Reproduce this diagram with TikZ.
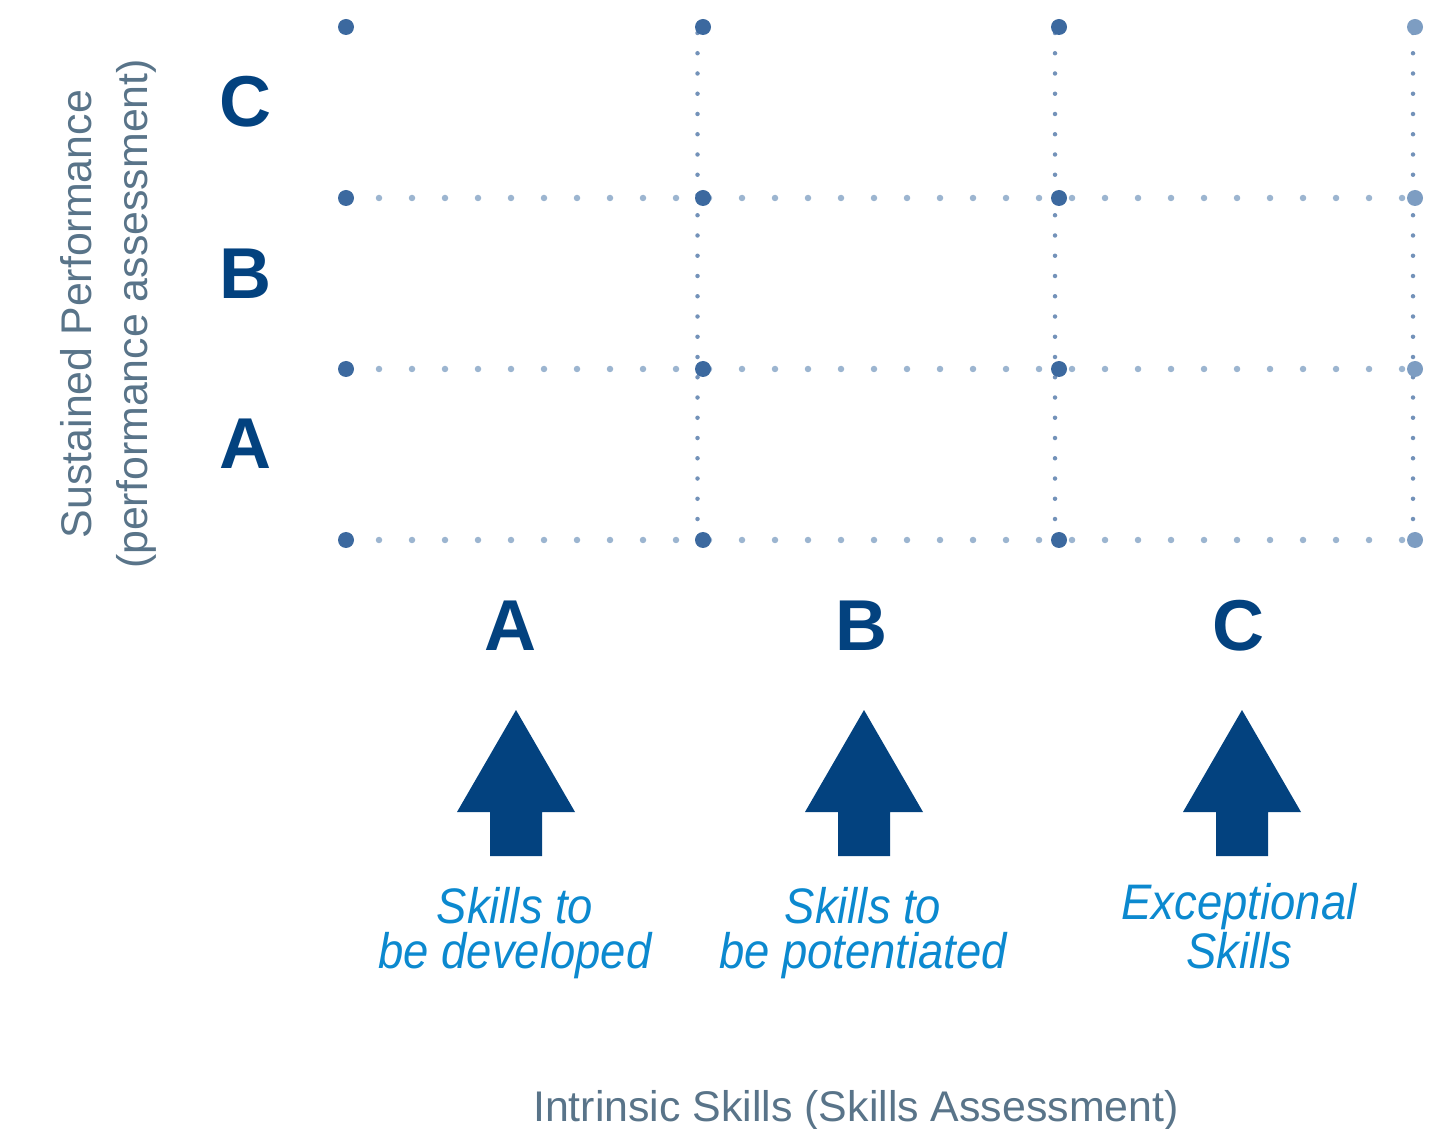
\documentclass[tikz,border=0pt]{standalone}
\usepackage{fontspec}
\setmainfont{Liberation Sans}
\newfontfamily\skillfont{Liberation Sans}[FakeStretch=0.91]
\usepackage{tikz}
\usetikzlibrary{
  backgrounds,
  positioning
}
\definecolor{gradeblue}{HTML}{03427F}
\definecolor{dotblue}{HTML}{3C699F}
\definecolor{edgeblue}{HTML}{7D9DC2}
\definecolor{rowblue}{HTML}{9CB5D0}
\definecolor{colblue}{HTML}{7392B9}
\definecolor{skillblue}{HTML}{0C89CF}
\definecolor{axisgrey}{HTML}{597489}
\tikzset{
  grid dot/.style={
    circle, fill=dotblue, inner sep=0pt, minimum size=3.2mm
  },
  edge dot/.style={
    grid dot, fill=edgeblue
  },
  row dots/.style={
    draw=rowblue, line width=1.3mm, line cap=round,
    dash pattern=on 0pt off 6.6mm
  },
  col dots/.style={
    draw=colblue, line width=0.9mm, line cap=round,
    dash pattern=on 0pt off 4.05mm, dash phase=2.85mm
  },
  grade/.style={
    text=gradeblue, inner sep=0pt,
    font=\fontsize{41}{41}\selectfont\bfseries
  },
  skill arrow/.style={
    fill=gradeblue
  },
  skill text/.style={
    text=skillblue, align=center, inner sep=0pt,
    font=\skillfont\itshape\fontsize{28.4}{25.5}\selectfont
  },
  axis text/.style={
    text=axisgrey, align=center, inner sep=0pt,
    font=\fontsize{24.4}{31.8}\selectfont
  },
}

\begin{document}
\begin{tikzpicture}[x=0.2mm, y=-0.2mm]

  \useasboundingbox (0,0) rectangle (1446,1129);

  % Grid points
  \foreach \cx [count=\j] in {346,703,1059} {
    \foreach \ry [count=\i] in {27,198,369,540}
      \node[grid dot] (g-\i-\j) at (\cx,\ry) {};
  }
  \foreach \ry [count=\i] in {27,198,369,540}
    \node[edge dot] (g-\i-4) at (1415,\ry) {};

  % Dotted grid lines
  \begin{scope}[on background layer]
    \foreach \i in {2,3,4}
      \draw[row dots] (g-\i-1.center) -- (g-\i-4.center);
    \draw[col dots] ([xshift=-1.1mm]g-1-2.center) -- ([xshift=-1.1mm]g-4-2.center);
    \draw[col dots] ([xshift=-0.8mm]g-1-3.center) -- ([xshift=-0.8mm]g-4-3.center);
    \draw[col dots] ([xshift=-0.4mm]g-1-4.center) -- ([xshift=-0.4mm]g-4-4.center);
  \end{scope}

  % Performance grades
  \node[grade] (rowC) at (246,102) {C};
  \node[grade] (rowB) at (246,274) {B};
  \node[grade] (rowA) at (246,444) {A};

  % Skill grades
  \node[grade] (colA) at (511,626) {A};
  \node[grade] (colB) at (862,626) {B};
  \node[grade] (colC) at (1239,626) {C};

  % Arrows
  \foreach \ax in {516,864,1242}
    \fill[skill arrow] (\ax,710) -- ++(59,102) -- ++(-33,0) -- ++(0,44)
      -- ++(-52,0) -- ++(0,-44) -- ++(-33,0) -- cycle;

  % Skill descriptions (base = last line)
  \node[skill text, anchor=base] (skillA) at (515,968) {Skills to\\be developed};
  \node[skill text, anchor=base] (skillB) at (863,968) {Skills to\\be potentiated};
  \node[skill text, anchor=base] (skillC) at (1239,968) {Exceptional\\Skills};

  % Axis labels
  \node[axis text, rotate=90] (perf) at (108,314)
    {Sustained Performance\\(performance assessment)};
  \node[axis text, anchor=base] (intr) at (856,1121)
    {Intrinsic Skills (Skills Assessment)};

\end{tikzpicture}
\end{document}
